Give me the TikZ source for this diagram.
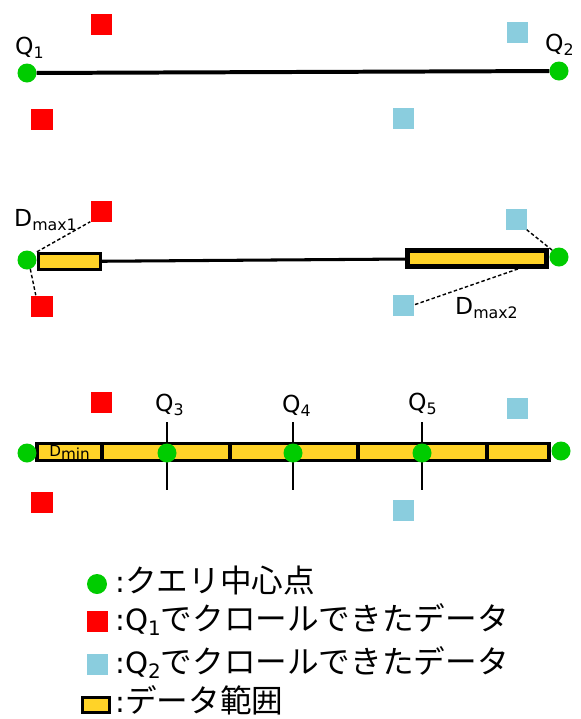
\documentclass[tikz,border=0pt]{standalone}
\usepackage{fontspec}
\usepackage{tikz,xcolor}
\setmainfont{DejaVu Sans}
\newfontfamily\jpfont{Noto Sans CJK JP}
\usetikzlibrary{calc}

\definecolor{qgreen}{RGB}{0,204,0}
\definecolor{dred}{RGB}{255,0,0}
\definecolor{dblue}{RGB}{138,205,222}
\definecolor{rangey}{RGB}{255,211,40}

\newcommand\qsub[1]{\raisebox{-3.5pt}{\fontsize{13.5}{13.5}\selectfont #1}}
\newcommand\lsub[1]{\raisebox{-5pt}{\fontsize{17}{17}\selectfont #1}}
\newcommand\jp[1]{{\jpfont\fontsize{27}{27}\selectfont #1}}

\begin{document}
\begin{tikzpicture}[x=0.03cm, y=-0.03cm,
	cpoint/.style={circle, fill=qgreen, inner sep=0pt, minimum size=0.57cm},
	reddata/.style={rectangle, fill=dred, inner sep=0pt, minimum size=0.63cm},
	bluedata/.style={rectangle, fill=dblue, inner sep=0pt, minimum size=0.63cm},
	rangebox/.style={rectangle, draw=black, fill=rangey, line width=2.8pt, inner sep=0pt, minimum height=0.5cm},
	qlabel/.style={anchor=base west, inner sep=0pt, font=\fontsize{20}{20}\selectfont},
	legendtext/.style={anchor=base west, inner sep=0pt, font=\fontsize{25}{25}\selectfont},
	dashline/.style={line width=1.2pt, dash pattern=on 3pt off 2pt}]

	\useasboundingbox (0,0) rectangle (581,719);

	% query Q1 -- Q2
	\node[reddata] (ra1) at (101,24) {};
	\node[reddata] (ra2) at (42,119) {};
	\node[bluedata] (ba1) at (517,32) {};
	\node[bluedata] (ba2) at (403,118) {};
	\node[cpoint] (q1) at (27,73) {};
	\node[cpoint] (q2) at (559,71) {};
	\draw[line width=3.4pt] (q1) -- (q2);
	\node[qlabel] (lq1) at (15,54) {Q\qsub{1}};
	\node[qlabel] (lq2) at (545,51) {Q\qsub{2}};

	% crawled ranges
	\node[reddata] (rb1) at (101,211) {};
	\node[reddata] (rb2) at (42,306) {};
	\node[bluedata] (bb1) at (516,219) {};
	\node[bluedata] (bb2) at (403,305) {};
	\node[cpoint] (d1) at (27,260) {};
	\node[cpoint] (d2) at (559,257) {};
	\node[rangebox, minimum width=1.86cm, minimum height=0.48cm] (rl) at (69.5,261.5) {};
	\node[rangebox, line width=4.2pt, minimum width=4.17cm, minimum height=0.48cm] (rr) at (477,258.5) {};
	\draw[line width=2.6pt] (rl) -- (rr);
	\draw[dashline] (rl.north west) -- (rb1.south west);
	\draw[dashline] (d1.-70) -- (rb2.120);
	\draw[dashline] (d2.135) -- (bb1.south east);
	\draw[dashline] ([xshift=-0.93cm]rr.south east) -- (bb2.east);
	\node[qlabel] (lmax1) at (14,226) {D\qsub{max1}};
	\node[qlabel] (lmax2) at (455,314) {D\qsub{max2}};

	% new query points
	\node[reddata] (rc1) at (101,402) {};
	\node[reddata] (rc2) at (42,502) {};
	\node[bluedata] (bc1) at (517,408) {};
	\node[bluedata] (bc2) at (403,510) {};
	\foreach \x/\n in {167/3, 293/4, 422/5} {
		\coordinate (t\n) at (\x,422);
		\coordinate (b\n) at (\x,490);
		\draw[line width=2.5pt] (t\n) -- (b\n);
	}
	\node[rangebox, minimum width=1.95cm] (s1) at (69.5,452) {\fontsize{13}{13}\selectfont D\raisebox{-2.5pt}{min}};
	\node[rangebox, minimum width=3.84cm] (s2) at (166,452) {};
	\node[rangebox, minimum width=3.84cm] (s3) at (294,452) {};
	\node[rangebox, minimum width=3.87cm] (s4) at (422.5,452) {};
	\node[rangebox, minimum width=1.86cm] (s5) at (518,452) {};
	\node[cpoint] (e1) at (27,453) {};
	\node[cpoint] (e2) at (561,451) {};
	\node[cpoint] (q3) at (167,453) {};
	\node[cpoint] (q4) at (293,453) {};
	\node[cpoint] (q5) at (422,453) {};
	\node[qlabel] (lq3) at (155,411) {Q\qsub{3}};
	\node[qlabel] (lq4) at (282,412) {Q\qsub{4}};
	\node[qlabel] (lq5) at (408,410) {Q\qsub{5}};

	% legend
	\node[cpoint, minimum size=0.6cm] (lg1) at (97,584) {};
	\node[reddata] (lg2) at (97,621) {};
	\node[bluedata] (lg3) at (97,664) {};
	\node[rangebox, line width=2.2pt, minimum width=0.82cm, minimum height=0.46cm] (lg4) at (96,705) {};
	\node[legendtext] (lt1) at (115,592) {:\jp{クエリ中心点}};
	\node[legendtext] (lt2) at (115,630) {:Q\lsub{1}\jp{でクロールできたデータ}};
	\node[legendtext] (lt3) at (115,673) {:Q\lsub{2}\jp{でクロールできたデータ}};
	\node[legendtext] (lt4) at (115,712) {:\jp{データ範囲}};

\end{tikzpicture}
\end{document}
